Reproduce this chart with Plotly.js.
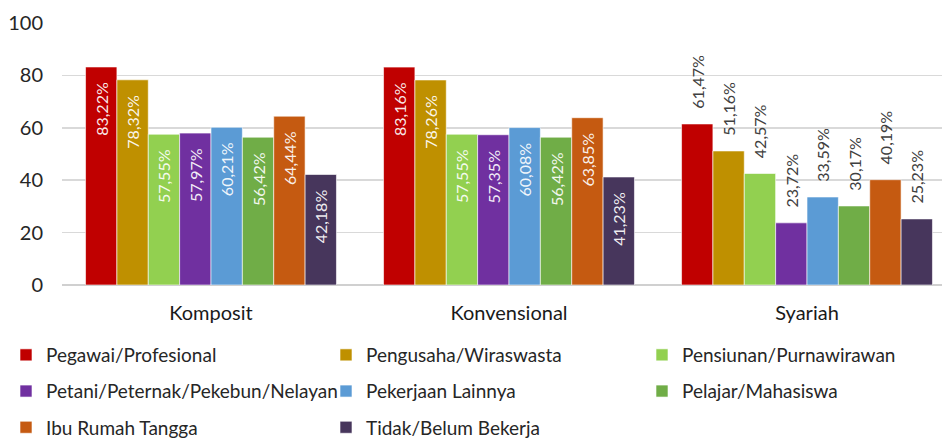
<!DOCTYPE html>
<html><head><meta charset="utf-8">
<script src="https://cdn.plot.ly/plotly-3.0.1.min.js"></script>
<style>html,body{margin:0;padding:0;background:#fff}#chart{width:942px;height:438px}</style>
</head><body><div id="chart"></div>
<script>
const categories = ['Komposit', 'Konvensional', 'Syariah'];
const seriesNames = ['Pegawai/Profesional', 'Pengusaha/Wiraswasta', 'Pensiunan/Purnawirawan',
  'Petani/Peternak/Pekebun/Nelayan', 'Pekerjaan Lainnya', 'Pelajar/Mahasiswa',
  'Ibu Rumah Tangga', 'Tidak/Belum Bekerja'];
const pegawai   = [83.22, 83.16, 61.47];
const pengusaha = [78.32, 78.26, 51.16];
const pensiunan = [57.55, 57.55, 42.57];
const petani    = [57.97, 57.35, 23.72];
const lainnya   = [60.21, 60.08, 33.59];
const pelajar   = [56.42, 56.42, 30.17];
const ibuRT     = [64.44, 63.85, 40.19];
const tidak     = [42.18, 41.23, 25.23];
const colors = ['#C00000', '#BF9000', '#92D050', '#7030A0', '#5B9BD5', '#70AD47', '#C55A11', '#47365C'];
const allSeries = [pegawai, pengusaha, pensiunan, petani, lainnya, pelajar, ibuRT, tidak];
const textPos = ['inside', 'inside', 'outside'];
const legendCol = ['legend','legend2','legend3','legend','legend2','legend3','legend','legend2'];

const fmt = v => v.toFixed(2).replace('.', ',') + '%';
const NB = '\u00A0\u00A0\u00A0';

const traces = allSeries.map((vals, i) => ({
  type: 'bar', name: seriesNames[i], x: categories, y: vals,
  legend: legendCol[i], legendgroup: 'g' + i,
  marker: {color: colors[i], line: {color: 'rgba(255,255,255,0.6)', width: 1}},
  text: vals.map((v, j) => textPos[j] === 'inside' ? fmt(v) + NB : NB + fmt(v)),
  textposition: textPos,
  insidetextanchor: 'end',
  textangle: -90,
  constraintext: 'none',
  textfont: {family: 'Lato, sans-serif', size: 16,
    color: textPos.map(p => p === 'inside' ? 'rgba(255,255,255,0.92)' : '#404040')},
  cliponaxis: false,
  hoverinfo: 'skip'
}));

const legendBase = {orientation: 'v', xref: 'container', yref: 'container', xanchor: 'left',
  yanchor: 'top', y: 1 - 336/438, traceorder: 'grouped', tracegroupgap: 8.5,
  font: {family: 'Lato, sans-serif', size: 19, color: '#262626'}, bgcolor: 'rgba(0,0,0,0)'};

const layout = {
  width: 942, height: 438,
  margin: {l: 62, r: 0, t: 23, b: 153, autoexpand: false},
  paper_bgcolor: '#fff', plot_bgcolor: '#fff',
  barmode: 'group', bargap: 0.158, bargroupgap: 0,
  showlegend: true,
  legend: Object.assign({}, legendBase, {x: 6/942}),
  legend2: Object.assign({}, legendBase, {x: 326/942}),
  legend3: Object.assign({}, legendBase, {x: 642/942}),
  xaxis: {range: [-0.5, 2.453], showgrid: false, zeroline: false, showline: false,
    ticks: '', ticklabelstandoff: 14, automargin: false,
    tickfont: {family: 'Lato, sans-serif', size: 20, color: '#1a1a1a'}},
  yaxis: {range: [0, 100], tickvals: [0, 20, 40, 60, 80, 100], gridcolor: '#d9d9d9', gridwidth: 1.5,
    zeroline: true, zerolinecolor: '#d0d0d0', zerolinewidth: 1.5, automargin: false,
    tickfont: {family: 'Lato, sans-serif', size: 20, color: '#262626'}, ticklabelstandoff: 18},
  font: {family: 'Lato, sans-serif'}
};
Plotly.newPlot('chart', traces, layout, {displayModeBar: false, staticPlot: true});
</script></body></html>
